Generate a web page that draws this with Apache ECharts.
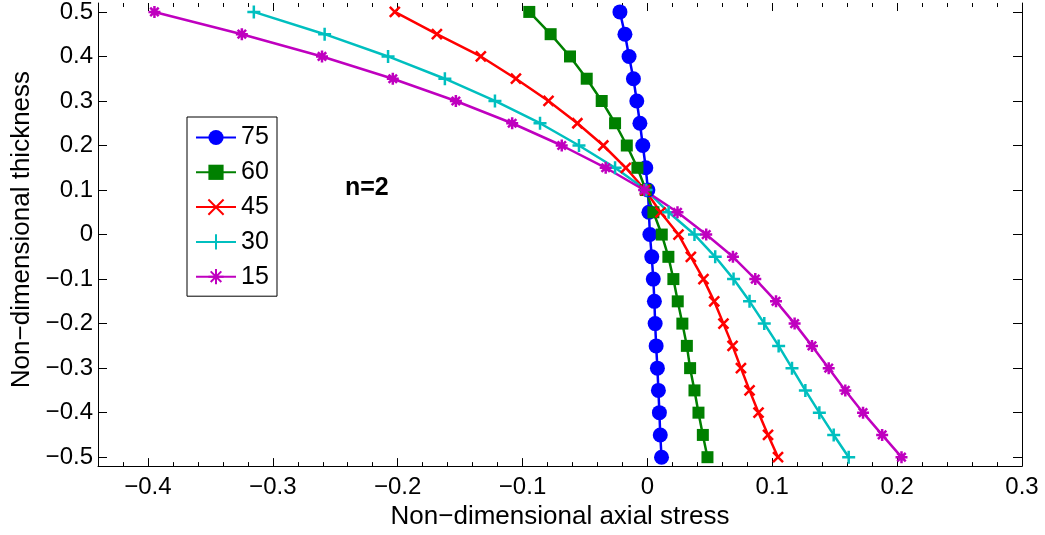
<!DOCTYPE html>
<html>
<head>
<meta charset="utf-8">
<script src="https://cdn.jsdelivr.net/npm/echarts@6/dist/echarts.min.js"></script>
<style>
html,body{margin:0;padding:0;background:#fff;}
#chart{width:1045px;height:535px;}
</style>
</head>
<body>
<div id="chart"></div>
<script>
// thickness levels (y)
const thickness = [0.5,0.45,0.4,0.35,0.3,0.25,0.2,0.15,0.1,0.05,0,-0.05,-0.1,-0.15,-0.2,-0.25,-0.3,-0.35,-0.4,-0.45,-0.5];
// axial stress (x) for each angle
const s75 = [-0.022,-0.018,-0.0147,-0.0112,-0.0085,-0.006,-0.0037,-0.0013,0.0004,0.0012,0.002,0.0035,0.0047,0.0056,0.0062,0.007,0.008,0.0088,0.0096,0.0103,0.0113];
const s60 = [-0.0946,-0.0775,-0.062,-0.0486,-0.0366,-0.0259,-0.0165,-0.008,-0.0013,0.0048,0.0115,0.0168,0.0208,0.0243,0.028,0.0316,0.0342,0.0377,0.0409,0.0444,0.0481];
const s45 = [-0.2023,-0.1686,-0.1334,-0.1053,-0.0792,-0.0561,-0.0353,-0.0173,-0.0018,0.0105,0.0249,0.0348,0.0449,0.0535,0.0609,0.0682,0.0749,0.0818,0.089,0.0966,0.1046];
const s30 = [-0.3152,-0.2585,-0.2077,-0.1622,-0.1221,-0.086,-0.0548,-0.0259,-0.001,0.017,0.0377,0.0543,0.069,0.0818,0.0936,0.1051,0.1158,0.1265,0.1377,0.1492,0.1612];
const s15 = [-0.3948,-0.3248,-0.2606,-0.2039,-0.1534,-0.1083,-0.0686,-0.0334,-0.0026,0.0241,0.0471,0.0685,0.0864,0.103,0.1179,0.1318,0.1452,0.1585,0.1727,0.188,0.2035];
const seriesNames = ['75','60','45','30','15'];
const xTicks = [-0.4,-0.3,-0.2,-0.1,0,0.1,0.2,0.3];
const yTicks = [-0.5,-0.4,-0.3,-0.2,-0.1,0,0.1,0.2,0.3,0.4,0.5];
const annotation = 'n=2';

const FONT = "'Liberation Sans', Arial, Helvetica, sans-serif";
const fmt = v => { const r = Math.round(v*10)/10; if (r === 0) return '0'; return (r < 0 ? '\u2212' : '') + Math.abs(r).toFixed(1); };

const chart = echarts.init(document.getElementById('chart'), null, {renderer: 'canvas'});

const X_MIN = -0.44, X_MAX = 0.3, Y_MIN = -0.52, Y_MAX = 0.52;
const tickStyle = {color: '#000', width: 1};
function xAx(pos, major, withLabels) {
  return {
    type: 'value', position: pos, min: X_MIN, max: X_MAX,
    interval: major ? undefined : 0.02,
    splitLine: {show: false},
    axisLine: {show: major && pos === 'bottom', onZero: false, lineStyle: {color: '#000', width: 1}},
    axisTick: major ? {show: true, inside: true, length: 8, lineStyle: tickStyle, customValues: xTicks}
                    : {show: true, inside: true, length: 4, lineStyle: tickStyle},
    axisLabel: withLabels ? {show: true, customValues: xTicks, formatter: fmt, fontSize: 24, fontFamily: FONT, color: '#000', margin: 9}
                          : {show: false},
    name: withLabels ? 'Non\u2212dimensional axial stress' : '',
    nameLocation: 'middle', nameGap: 32,
    nameTextStyle: {fontSize: 26, fontFamily: FONT, color: '#000'}
  };
}
function yAx(pos, withLabels) {
  return {
    type: 'value', position: pos, min: Y_MIN, max: Y_MAX,
    splitLine: {show: false},
    axisLine: {show: true, onZero: false, lineStyle: {color: '#000', width: 1}},
    axisTick: {show: true, inside: true, length: 9, lineStyle: tickStyle, customValues: yTicks},
    axisLabel: withLabels ? {show: true, customValues: yTicks, formatter: fmt, fontSize: 24, fontFamily: FONT, color: '#000', margin: 5}
                          : {show: false},
    name: withLabels ? 'Non\u2212dimensional thickness' : '',
    nameLocation: 'middle', nameGap: 62,
    nameTextStyle: {fontSize: 26, fontFamily: FONT, color: '#000', padding: [0, 0, 0, 10]}
  };
}

const colors = ['#0000ff', '#008000', '#ff0000', '#00bfbf', '#bf00bf'];
const symbols = [
  'circle',
  'rect',
  'path://M0,0L10,10M10,0L0,10',
  'path://M5,0L5,10M0,5L10,5',
  'path://M5,0L5,10M0,5L10,5M1.5,1.5L8.5,8.5M8.5,1.5L1.5,8.5'
];
const sizes = [15, 12, 10, 13, 12];
const allX = [s75, s60, s45, s30, s15];

const series = allX.map((xs, i) => ({
  name: seriesNames[i],
  type: 'line',
  xAxisIndex: 0, yAxisIndex: 0,
  data: xs.map((x, k) => [x, thickness[k]]),
  symbol: symbols[i],
  symbolSize: sizes[i],
  showAllSymbol: true,
  lineStyle: {color: colors[i], width: 2.5},
  itemStyle: i < 2 ? {color: colors[i], borderWidth: 0}
                   : {color: colors[i], borderColor: colors[i], borderWidth: 2.5},
  emphasis: {disabled: true},
  animation: false
}));

chart.setOption({
  animation: false,
  color: colors,
  textStyle: {fontFamily: FONT},
  grid: {left: 98, right: 23, top: 0, bottom: 65, containLabel: false},
  xAxis: [xAx('bottom', true, true), xAx('bottom', false, false), xAx('top', true, false), xAx('top', false, false)],
  yAxis: [yAx('left', true), yAx('right', false)],
  legend: {
    orient: 'vertical', left: 187, top: 117,
    padding: [8, 6, 7, 8],
    itemGap: 9.8, itemWidth: 40, itemHeight: 19,
    borderColor: '#000', borderWidth: 1, backgroundColor: '#fff',
    textStyle: {fontSize: 25, lineHeight: 24, fontFamily: FONT, color: '#000', width: 30},
    data: seriesNames,
    selectedMode: false
  },
  graphic: [{
    type: 'text', left: 345, top: 176,
    style: {text: annotation, font: 'bold 25px ' + FONT, fill: '#000'}
  }],
  series: series
});
</script>
</body>
</html>
